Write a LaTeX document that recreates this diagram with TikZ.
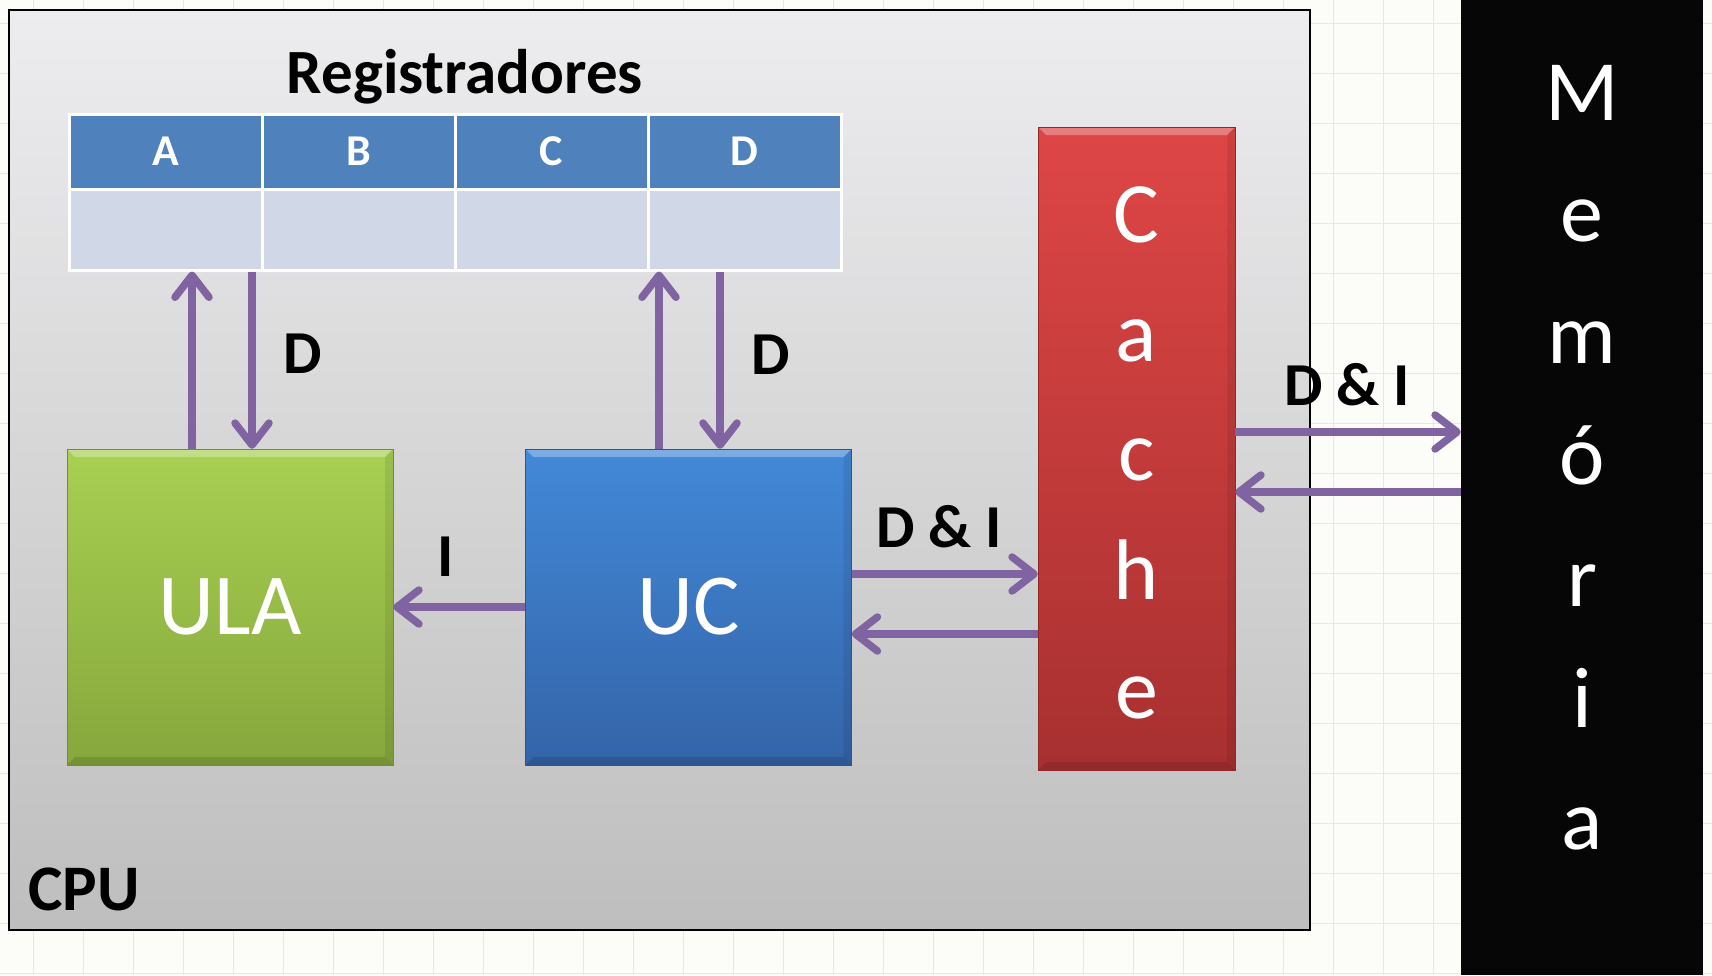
\documentclass[tikz,border=0pt]{standalone}
\usepackage{fontspec}
\setmainfont{Carlito}
\usetikzlibrary{arrows.meta}
\definecolor{paper}{RGB}{252,252,249}
\definecolor{gridgray}{RGB}{230,232,226}
\definecolor{cputop}{RGB}{237,237,239}
\definecolor{cpubot}{RGB}{190,190,190}
\definecolor{regblue}{RGB}{79,129,189}
\definecolor{regpale}{RGB}{208,216,232}
\definecolor{busviolet}{RGB}{128,100,162}
\definecolor{ulatop}{RGB}{168,208,82}
\definecolor{ulabot}{RGB}{134,167,60}
\definecolor{uctop}{RGB}{66,137,216}
\definecolor{ucbot}{RGB}{52,100,168}
\definecolor{cachetop}{RGB}{222,70,70}
\definecolor{cachebot}{RGB}{168,48,48}
\definecolor{memblack}{RGB}{6,6,6}
\tikzset{
  gridline/.style={draw=gridgray, line width=1pt},
  bevel/.style={path picture={
    \fill[white, opacity=0.3] (path picture bounding box.north west)
      -- (path picture bounding box.north east)
      -- ([xshift=-8pt,yshift=-8pt]path picture bounding box.north east)
      -- ([xshift=8pt,yshift=-8pt]path picture bounding box.north west) -- cycle;
    \fill[black, opacity=0.12] (path picture bounding box.south west)
      -- (path picture bounding box.south east)
      -- ([xshift=-8pt,yshift=8pt]path picture bounding box.south east)
      -- ([xshift=8pt,yshift=8pt]path picture bounding box.south west) -- cycle;
    \fill[black, opacity=0.08] (path picture bounding box.north east)
      -- (path picture bounding box.south east)
      -- ([xshift=-8pt,yshift=8pt]path picture bounding box.south east)
      -- ([xshift=-8pt,yshift=-8pt]path picture bounding box.north east) -- cycle;}},
  unitbox/.style={bevel, minimum width=326pt, minimum height=316pt, inner sep=0pt,
    text=white, font=\fontsize{87}{87}\selectfont},
  bus/.style={draw=busviolet, line width=7.5pt,
    -{Straight Barb[round, length=22pt, width=34pt]}},
  tag/.style={inner sep=0pt, font=\bfseries\fontsize{61}{61}\selectfont},
  letter/.style={text=white, anchor=base, inner sep=0pt,
    font=\fontsize{86}{86}\selectfont},
  regcell/.style={draw=white, line width=3pt, minimum width=193pt, inner sep=0pt},
}

\begin{document}
\begin{tikzpicture}[x=1pt,y=-1pt]
\useasboundingbox (0,0) rectangle (1712,975);
% paper with grid
\fill[paper] (0,0) rectangle (1712,975);
\foreach \gx in {33,83,...,1712} \draw[gridline] (\gx,0) -- (\gx,975);
\foreach \gy in {23,73,...,975} \draw[gridline] (0,\gy) -- (1712,\gy);

% CPU
\node[draw=black, line width=2pt, top color=cputop, bottom color=cpubot,
  minimum width=1301pt, minimum height=920pt, inner sep=0pt] (cpu) at (659.5,470) {};
\node[tag, font=\bfseries\fontsize{65}{65}\selectfont] (cpulbl) at (84,889) {CPU};

% registers
\node[anchor=base, font=\bfseries\fontsize{63}{63}\selectfont] (regtitle) at (465,93) {Registradores};
\foreach \r [count=\k from 0] in {A,B,C,D} {
  \node[regcell, fill=regblue, minimum height=75pt, text=white,
    font=\bfseries\fontsize{44}{44}\selectfont] (h\r) at (165.5+193*\k,151.5) {\r};
  \node[regcell, fill=regpale, minimum height=81pt] (v\r) at (165.5+193*\k,229.5) {};
}

% units
\node[unitbox, top color=ulatop, bottom color=ulabot, draw=ulabot!85!black] (ula) at (230,607) {ULA};
\node[unitbox, top color=uctop, bottom color=ucbot, draw=ucbot!85!black] (uc) at (688.5,607) {UC};
\node[bevel, top color=cachetop, bottom color=cachebot, draw=cachebot!85!black,
  minimum width=197pt, minimum height=643pt, inner sep=0pt] (cache) at (1136.5,448.5) {};
\foreach \ch [count=\k from 0] in {C,a,c,h,e}
  \node[letter] (c\k) at (1136.5,242+119*\k) {\ch};

% memory
\node[fill=memblack, minimum width=242pt, minimum height=975pt, inner sep=0pt] (mem) at (1582,487.5) {};
\foreach \ch [count=\k from 0] in {M,e,m,ó,r,i,a}
  \node[letter] (m\k) at (1582,120+121.5*\k) {\ch};

% buses
\draw[bus] ([xshift=-38pt]ula.north) -- ([xshift=-38pt]ula.north |- vA.south);
\draw[bus] ([xshift=22pt]ula.north |- vA.south) -- ([xshift=22pt]ula.north);
\draw[bus] ([xshift=-29.5pt]uc.north) -- ([xshift=-29.5pt]uc.north |- vD.south);
\draw[bus] ([xshift=31.5pt]uc.north |- vD.south) -- ([xshift=31.5pt]uc.north);
\draw[bus] (uc.west) -- (ula.east);
\draw[bus] ([yshift=33pt]uc.east) -- ([yshift=33pt]uc.east -| cache.west);
\draw[bus] ([yshift=-27pt]uc.east -| cache.west) -- ([yshift=-27pt]uc.east);
\draw[bus] ([yshift=16.5pt]cache.east) -- ([yshift=16.5pt]cache.east -| mem.west);
\draw[bus] ([yshift=-43.5pt]cache.east -| mem.west) -- ([yshift=-43.5pt]cache.east);

\node[tag] (dula) at (303,354) {D};
\node[tag] (duc) at (771,355) {D};
\node[tag] (ilbl) at (446,557) {I};
\node[tag] (dicache) at (939,527) {D \& I};
\node[tag] (dimem) at (1347,385) {D \& I};
\end{tikzpicture}
\end{document}
